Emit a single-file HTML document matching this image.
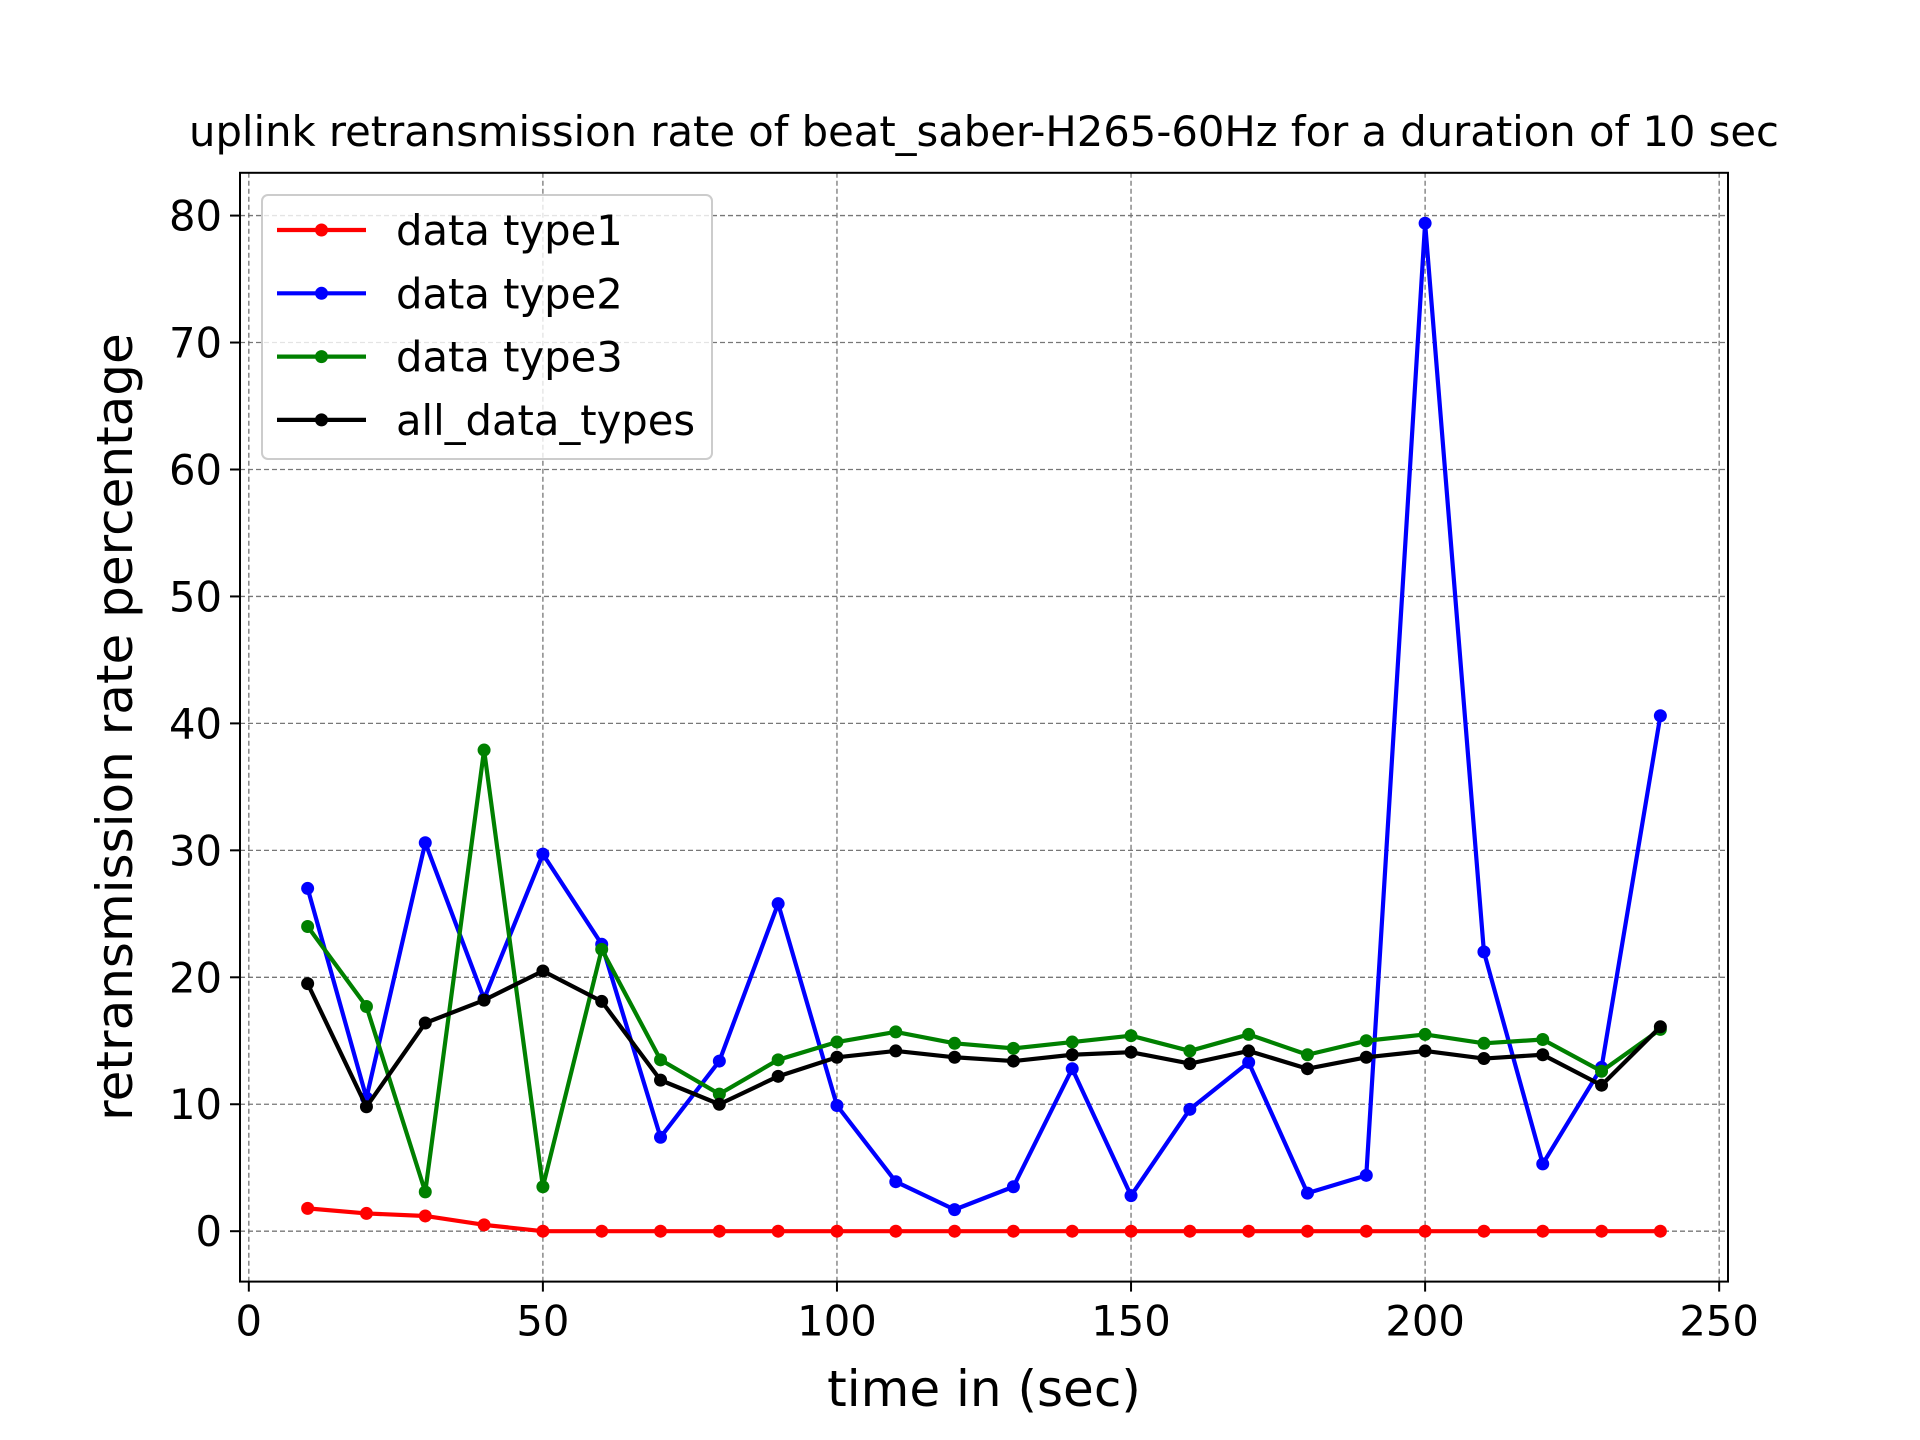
<!DOCTYPE html>
<html><head><meta charset="utf-8"><style>
html,body{margin:0;padding:0;background:#fff}
svg{display:block}
text{font-family:"DejaVu Sans","Liberation Sans",sans-serif;fill:#000}
</style></head><body>
<svg id="chart" width="1920" height="1440" viewBox="0 0 1920 1440" xmlns="http://www.w3.org/2000/svg">
<g id="grid"></g>
<g id="series"></g>
<rect x="240" y="172.8" width="1488" height="1108.8" fill="none" stroke="#000" stroke-width="2"/>
<g id="ticks"></g>
<text x="984" y="146" font-size="41.7" text-anchor="middle">uplink retransmission rate of beat_saber-H265-60Hz for a duration of 10 sec</text>
<text x="984" y="1406" font-size="50" text-anchor="middle">time in (sec)</text>
<text transform="translate(132,727) rotate(-90)" font-size="50" text-anchor="middle">retransmission rate percentage</text>
<g id="legend"></g>
</svg>
<script>
const times=[10,20,30,40,50,60,70,80,90,100,110,120,130,140,150,160,170,180,190,200,210,220,230,240];
const type1=[1.8,1.4,1.2,0.5,0,0,0,0,0,0,0,0,0,0,0,0,0,0,0,0,0,0,0,0];
const type2=[27,10.5,30.6,18.3,29.7,22.6,7.4,13.4,25.8,9.9,3.9,1.7,3.5,12.8,2.8,9.6,13.3,3.0,4.4,79.4,22,5.3,12.9,40.6];
const type3=[24,17.7,3.1,37.9,3.5,22.2,13.5,10.8,13.5,14.9,15.7,14.8,14.4,14.9,15.4,14.2,15.5,13.9,15.0,15.5,14.8,15.1,12.6,15.9];
const allTypes=[19.5,9.8,16.4,18.2,20.5,18.1,11.9,10.0,12.2,13.7,14.2,13.7,13.4,13.9,14.1,13.2,14.2,12.8,13.7,14.2,13.6,13.9,11.5,16.1];
const xTicks=[0,50,100,150,200,250];
const yTicks=[0,10,20,30,40,50,60,70,80];
const seriesNames=["data type1","data type2","data type3","all_data_types"];
const seriesColors=["#ff0000","#0000ff","#008000","#000000"];
const NS="http://www.w3.org/2000/svg";
const L=240,R=1728,T=172.8,B=1281.6;
const xmin=-1.5,xmax=251.5,ymin=-3.97,ymax=83.37;
const sx=v=>L+(v-xmin)/(xmax-xmin)*(R-L);
const sy=v=>B-(v-ymin)/(ymax-ymin)*(B-T);
function mk(tag,attrs,parent){const e=document.createElementNS(NS,tag);for(const k in attrs)e.setAttribute(k,attrs[k]);parent.appendChild(e);return e;}
const grid=document.getElementById('grid'),ticks=document.getElementById('ticks');
xTicks.forEach(v=>{const x=sx(v);
 const g=mk('line',{x1:x,x2:x,y1:T,y2:B,stroke:'#777','stroke-width':1.3,'stroke-dasharray':'5,3'},grid);
 
 mk('line',{x1:x,x2:x,y1:B,y2:B+10,stroke:'#000','stroke-width':2},ticks);
 const t=mk('text',{x:x,y:B+54,'font-size':41.7,'text-anchor':'middle'},ticks);t.textContent=v;
 });
yTicks.forEach(v=>{const y=sy(v);
 const g=mk('line',{x1:L,x2:R,y1:y,y2:y,stroke:'#777','stroke-width':1.3,'stroke-dasharray':'5,3'},grid);
 
 mk('line',{x1:L-10,x2:L,y1:y,y2:y,stroke:'#000','stroke-width':2},ticks);
 const t=mk('text',{x:L-18,y:y+15,'font-size':41.7,'text-anchor':'end'},ticks);t.textContent=v;
 });
const sg=document.getElementById('series');
[type1,type2,type3,allTypes].forEach((vals,i)=>{
 const g=mk('g',{},sg);
 
 const pts=vals.map((v,j)=>sx(times[j])+','+sy(v)).join(' ');
 mk('polyline',{points:pts,fill:'none',stroke:seriesColors[i],'stroke-width':4.2,'stroke-linejoin':'round'},g);
 vals.forEach((v,j)=>{const c=mk('circle',{cx:sx(times[j]),cy:sy(v),r:6.5,fill:seriesColors[i]},g);
  });
});
const lg=document.getElementById('legend');
const box=mk('rect',{x:262,y:195,width:450,height:264,rx:6,fill:'#fff','fill-opacity':0.8,stroke:'#ccc','stroke-width':2},lg);

seriesNames.forEach((n,i)=>{const y=230+i*63.3;
 const e=mk('g',{},lg);
 mk('line',{x1:277,x2:366,y1:y,y2:y,stroke:seriesColors[i],'stroke-width':4.2},e);
 mk('circle',{cx:321.5,cy:y,r:6.5,fill:seriesColors[i]},e);
 const t=mk('text',{x:396,y:y+15,'font-size':41.7},e);t.textContent=n;});
</script>
</body></html>
